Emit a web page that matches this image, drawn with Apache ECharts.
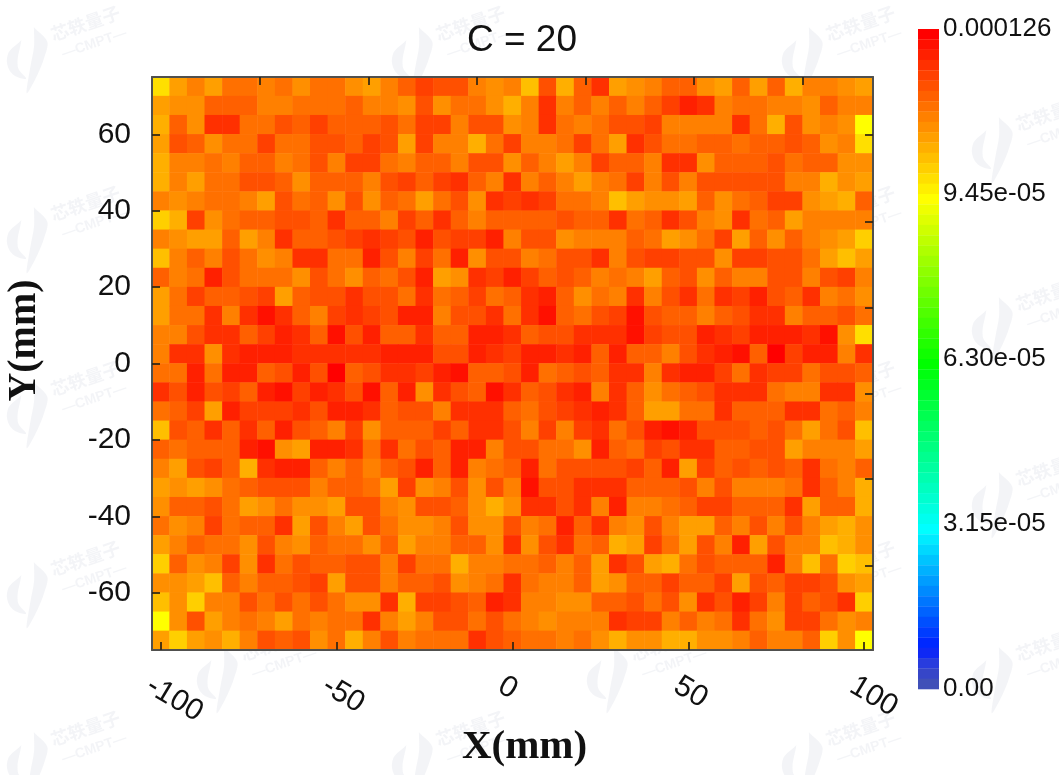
<!DOCTYPE html>
<html><head><meta charset="utf-8">
<style>html,body{margin:0;padding:0;background:#fff}#c{width:1059px;height:775px}</style>
<script src="https://cdn.jsdelivr.net/npm/echarts@6/dist/echarts.min.js"></script>
</head><body><div id="c"></div>
<script>
// flux values in units of 1e-6, top row first
const row00=[97,105,109,105,111,111,109,111,107,111,111,107,105,109,113,117,115,115,109,107,109,101,115,103,113,119,105,107,109,113,113,107,105,113,105,113,103,109,109,107,105];
const row01=[105,107,107,113,113,113,109,109,111,111,111,113,109,109,107,115,107,111,111,107,103,109,119,109,113,109,113,109,113,117,121,119,109,111,111,109,109,107,113,109,109];
const row02=[103,113,107,119,119,111,111,115,113,117,113,113,113,115,111,117,117,109,115,115,107,109,119,111,109,111,115,115,117,109,109,109,109,119,111,103,115,107,109,107,93];
const row03=[105,115,113,107,111,111,117,111,111,115,115,113,117,115,105,117,109,109,103,111,117,109,109,111,117,111,105,119,115,111,111,113,113,111,113,113,115,113,107,109,97];
const row04=[103,109,109,111,109,113,113,109,111,115,109,117,117,111,109,113,113,109,115,115,107,113,109,105,109,117,113,113,109,119,119,107,113,113,113,115,111,113,113,107,107];
const row05=[103,109,105,111,111,115,115,113,107,113,113,113,109,115,117,113,117,119,113,109,119,109,113,109,105,109,111,117,109,115,109,115,115,115,115,115,109,109,103,107,105];
const row06=[109,107,109,111,111,109,105,115,111,113,107,115,107,113,111,105,111,115,107,119,117,119,117,111,111,109,101,105,107,107,105,113,107,111,113,117,117,107,105,103,113];
const row07=[99,103,117,107,111,113,113,115,115,113,119,113,113,109,117,113,119,113,109,113,113,113,113,115,113,113,119,111,113,119,115,109,107,119,111,113,105,109,109,109,109];
const row08=[109,107,105,105,113,105,109,119,113,113,115,117,119,117,115,121,115,117,117,121,109,115,115,107,109,109,109,113,111,105,107,111,117,105,113,107,113,109,107,105,99];
const row09=[101,109,113,109,115,111,107,109,119,119,111,111,121,115,109,117,111,121,107,115,115,109,111,115,115,119,109,115,117,117,115,115,107,117,117,115,115,111,105,101,105];
const row10=[113,109,111,121,115,111,111,111,107,115,111,107,113,111,115,121,105,107,119,117,121,117,113,115,113,109,111,109,105,113,115,107,113,109,109,115,115,109,115,117,109];
const row11=[105,111,117,113,113,115,117,105,113,115,115,119,115,115,111,119,111,113,117,111,113,119,121,113,107,111,109,119,109,115,119,111,119,117,121,115,113,119,109,111,107];
const row12=[105,111,111,119,109,119,123,119,113,109,117,119,117,115,121,121,109,115,115,119,111,119,123,113,111,115,117,123,115,113,113,109,113,115,119,119,109,113,113,115,111];
const row13=[109,109,115,119,119,113,117,121,119,113,123,115,121,113,113,119,113,113,121,121,119,113,115,115,119,119,119,123,117,115,115,121,119,117,121,121,121,119,123,107,97];
const row14=[109,119,119,107,119,121,121,121,119,119,119,119,119,121,121,121,115,115,121,119,117,121,121,119,121,113,121,113,113,109,115,119,121,123,113,125,117,121,121,109,119];
const row15=[111,111,121,111,121,121,113,115,121,115,125,113,115,119,119,117,121,123,113,113,115,121,111,113,115,113,119,119,109,119,121,121,117,111,119,117,117,111,115,115,113];
const row16=[119,115,121,115,117,113,121,123,117,121,119,115,123,113,121,107,119,115,113,123,119,113,115,119,121,109,119,113,107,111,113,115,119,119,119,111,109,109,119,119,107];
const row17=[111,113,117,105,121,117,117,117,119,115,121,121,119,113,115,115,109,119,119,119,113,111,115,117,119,121,119,113,105,105,111,111,119,113,113,113,119,119,111,113,109];
const row18=[101,115,113,119,113,119,113,121,115,113,109,117,107,113,113,113,117,113,119,119,115,109,117,109,117,119,111,115,121,123,121,115,115,115,113,115,111,105,111,115,101];
const row19=[113,111,113,113,113,121,123,107,105,121,121,119,111,119,111,115,113,121,121,109,115,115,111,111,107,121,113,111,117,115,119,119,113,113,115,115,105,109,109,109,105];
const row20=[109,105,115,117,113,103,119,121,121,113,109,113,109,113,115,121,113,121,109,111,113,121,111,115,115,115,115,117,113,121,105,117,113,115,113,115,113,119,111,109,113];
const row21=[105,107,105,107,111,113,115,115,115,109,113,113,111,105,117,107,109,115,107,115,109,123,115,115,119,119,119,113,113,113,115,109,115,109,109,109,111,119,113,109,103];
const row22=[107,113,113,115,111,105,107,111,107,107,105,115,115,109,107,115,115,113,107,103,107,119,119,115,119,109,121,109,109,111,113,117,117,113,113,113,119,105,113,113,103];
const row23=[111,107,109,117,111,113,113,119,105,115,109,105,115,111,107,107,109,115,107,107,115,109,111,121,113,119,109,107,115,109,105,105,113,109,115,109,115,109,105,103,107];
const row24=[105,109,113,111,111,107,115,109,107,113,111,111,107,113,105,109,109,113,113,107,119,107,115,119,111,113,103,105,117,111,105,115,109,121,105,115,109,109,101,103,107];
const row25=[99,113,107,109,117,107,119,111,115,113,113,115,115,109,117,111,111,103,109,109,111,111,113,109,113,105,119,115,105,103,111,115,113,113,113,121,109,101,111,99,101];
const row26=[107,107,105,101,113,109,113,113,115,117,105,115,115,109,113,113,115,107,109,111,119,111,109,109,113,105,107,113,113,117,113,113,117,105,115,113,117,117,115,107,105];
const row27=[101,107,99,109,109,115,111,115,111,115,111,107,107,119,103,117,117,115,113,121,119,109,109,107,107,113,113,115,111,115,107,119,115,121,117,109,117,113,115,119,99];
const row28=[93,107,115,105,109,111,109,105,111,109,111,111,119,109,105,109,115,115,111,115,111,109,107,109,109,109,119,117,117,109,113,109,111,119,111,107,117,117,111,107,109];
const row29=[105,99,105,107,103,109,115,113,115,107,111,103,109,115,109,111,111,111,119,115,113,111,111,109,111,107,103,107,107,103,103,107,107,109,113,109,109,113,99,107,93];
const rows=[row00,row01,row02,row03,row04,row05,row06,row07,row08,row09,row10,row11,row12,row13,row14,row15,row16,row17,row18,row19,row20,row21,row22,row23,row24,row25,row26,row27,row28,row29];

const xCategories=[-100,-95,-90,-85,-80,-75,-70,-65,-60,-55,-50,-45,-40,-35,-30,-25,-20,-15,-10,-5,0,5,10,15,20,25,30,35,40,45,50,55,60,65,70,75,80,85,90,95,100];
const yCategories=[72.5,67.5,62.5,57.5,52.5,47.5,42.5,37.5,32.5,27.5,22.5,17.5,12.5,7.5,2.5,-2.5,-7.5,-12.5,-17.5,-22.5,-27.5,-32.5,-37.5,-42.5,-47.5,-52.5,-57.5,-62.5,-67.5,-72.5];

const xTicks=[-100,-50,0,50,100];
const yTicks=[-60,-40,-20,0,20,40,60];
const topTicks=[-72,-40.8,-10.2,20.7,51.4,82.5];
const rightTicks=[59.8,37.2,14.7,-7.8,-30.3,-53];
const scaleTicks=[0,31.5,63,94.5,126];
const scaleLabels=['0.00','3.15e-05','6.30e-05','9.45e-05','0.000126'];
const scaleMax=126, levels=64;
const paletteStops=[[0,[64,80,184]],[1,[54,70,200]],[2,[40,60,222]],[3,[15,40,245]],[4,[0,40,255]],[15,[0,255,255]],[31,[0,255,0]],[47,[255,255,0]],[63,[255,0,0]]];

function levelColor(l){
  for(let i=1;i<paletteStops.length;i++){
    const a=paletteStops[i-1],b=paletteStops[i];
    if(l<=b[0]){const t=(l-a[0])/(b[0]-a[0]);
      const c=a[1].map((v,k)=>Math.round(v+(b[1][k]-v)*t));
      return 'rgb('+c.join(',')+')';}
  }
}
const pieces=[];
for(let i=0;i<levels;i++)pieces.push({min:i*scaleMax/levels,max:(i+1)*scaleMax/levels,color:levelColor(i)});

const cells=[];
rows.forEach((r,j)=>r.forEach((v,i)=>cells.push([i,j,v])));

const frame='#50504e', tickCol='rgba(45,35,20,.85)';
const serif='"Liberation Serif"', sans='"Liberation Sans"';
function frameAxis(extra){
  return Object.assign({type:'value',z:10,scale:false,splitLine:{show:false},
    axisLine:{show:true,onZero:false,lineStyle:{color:frame,width:2}},
    axisTick:{show:true,inside:true,length:8,lineStyle:{color:tickCol,width:2}},
    axisLabel:{show:false}},extra);
}

// watermark placement
const wmA=[60,445,835], wmB=[250,640,1025];
const wmRows=[[50,wmA],[140,wmB],[230,wmA],[320,wmB],[405,wmA],[495,wmB],[585,wmA],[670,wmB],[755,wmA]];
const wmColor='rgba(70,90,140,0.065)';
const graphics=[];
wmRows.forEach(([y,xs])=>xs.forEach(x=>{
  graphics.push({type:'group',x:x-12,y:y,rotation:0.33,silent:true,z:50,children:[
    {type:'polygon',shape:{points:[[-22,-18],[-40,-8],[-42,10],[-30,20],[-34,6],[-22,-18]],smooth:0.4},style:{fill:wmColor}},
    {type:'polygon',shape:{points:[[-6,-26],[-12,-8],[-22,10],[-34,34],[-18,20],[-6,6],[2,-8],[-6,-26]],smooth:0.3},style:{fill:wmColor}},
    {type:'text',x:8,y:-22,style:{text:'芯轶量子',font:'bold 18px "Noto Sans CJK SC"',fill:wmColor}},
    {type:'text',x:12,y:2,style:{text:'—CMPT—',font:'bold 14px "Liberation Sans"',fill:wmColor}}
  ]});
}));

const chart=echarts.init(document.getElementById('c'),null,{renderer:'canvas'});
chart.setOption({
  animation:false,
  backgroundColor:'#fff',
  title:{text:'C = 20',left:517,top:17,textAlign:'center',textStyle:{fontFamily:sans,fontSize:37,fontWeight:'normal',color:'#111'}},
  grid:[
    {left:152,top:77,width:721,height:573,outerBoundsMode:'none'},
    {left:918,top:29,width:21,height:660,outerBoundsMode:'none'}
  ],
  xAxis:[
    {type:'category',gridIndex:0,data:xCategories,show:false},
    frameAxis({gridIndex:0,position:'bottom',min:-102.5,max:102.5,
      name:'X(mm)',nameLocation:'middle',nameGap:77,nameRotate:0,nameMoveOverlap:false,
      nameTextStyle:{fontFamily:serif,fontWeight:'bold',fontSize:41,color:'#111',padding:[0,0,0,24]},
      axisTick:{show:true,inside:true,length:8,customValues:xTicks,lineStyle:{color:tickCol,width:2}},
      axisLabel:{show:true,customValues:xTicks,rotate:-31,margin:41,align:'left',verticalAlign:'middle',padding:[0,0,0,-14],
        fontFamily:sans,fontSize:30,color:'#111',formatter:v=>String(v)}}),
    frameAxis({gridIndex:0,position:'top',min:-102.5,max:102.5,
      axisTick:{show:true,inside:true,length:8,customValues:topTicks,lineStyle:{color:tickCol,width:2}}}),
    {type:'value',gridIndex:1,show:false,min:0,max:1}
  ],
  yAxis:[
    {type:'category',gridIndex:0,data:yCategories,inverse:true,show:false},
    frameAxis({gridIndex:0,position:'left',min:-75,max:75,
      name:'Y(mm)',nameLocation:'middle',nameGap:107,nameRotate:90,nameMoveOverlap:false,
      nameTextStyle:{fontFamily:serif,fontWeight:'bold',fontSize:40,color:'#111',padding:[0,0,0,46]},
      axisTick:{show:true,inside:true,length:8,customValues:yTicks,lineStyle:{color:tickCol,width:2}},
      axisLabel:{show:true,customValues:yTicks,margin:21,fontFamily:sans,fontSize:30,color:'#111',formatter:v=>String(v)}}),
    frameAxis({gridIndex:0,position:'right',min:-75,max:75,
      axisTick:{show:true,inside:true,length:8,customValues:rightTicks,lineStyle:{color:tickCol,width:2}}}),
    {type:'value',gridIndex:1,position:'right',min:0,max:scaleMax,interval:31.5,
      splitLine:{show:false},axisLine:{show:false},axisTick:{show:false},
      axisLabel:{show:true,margin:4,padding:[0,0,6,0],fontFamily:sans,fontSize:26,color:'#111',
        formatter:v=>scaleLabels[scaleTicks.indexOf(v)]}}
  ],
  visualMap:{type:'piecewise',seriesIndex:0,pieces:pieces,orient:'vertical',left:918,top:29,padding:0,
    itemWidth:21,itemHeight:10.6,itemGap:660/levels-10.6,itemSymbol:'rect',showLabel:false,selectedMode:false,hoverLink:false},
  series:[{type:'heatmap',xAxisIndex:0,yAxisIndex:0,data:cells,progressive:0,silent:true,emphasis:{disabled:true},itemStyle:{borderWidth:0}}],
  graphic:graphics
});
</script></body></html>
